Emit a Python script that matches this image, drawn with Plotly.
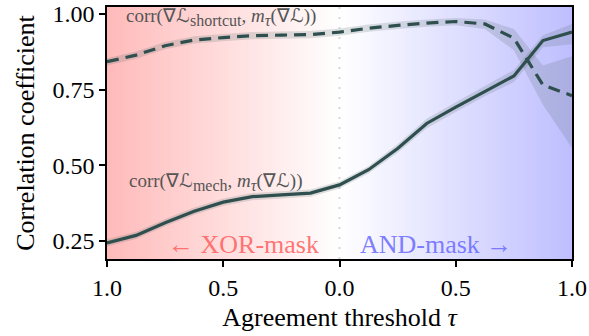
import numpy as np
import plotly.graph_objects as go

# Signed agreement threshold: negative = XOR-mask side, positive = AND-mask side
tau = [-1.0, -0.875, -0.75, -0.625, -0.5, -0.375, -0.25, -0.125, 0.0,
       0.125, 0.25, 0.375, 0.5, 0.625, 0.75, 0.875, 1.0]

shortcut_mean = [0.842, 0.864, 0.895, 0.914, 0.922, 0.928, 0.930, 0.932, 0.940,
                 0.953, 0.962, 0.970, 0.975, 0.967, 0.920, 0.765, 0.730]
shortcut_lo = [0.830, 0.852, 0.883, 0.902, 0.910, 0.916, 0.918, 0.920, 0.928,
               0.941, 0.950, 0.958, 0.963, 0.950, 0.880, 0.700, 0.557]
shortcut_hi = [0.854, 0.876, 0.907, 0.926, 0.934, 0.940, 0.942, 0.944, 0.952,
               0.965, 0.974, 0.982, 0.987, 0.982, 0.950, 0.830, 0.860]

mech_mean = [0.243, 0.268, 0.310, 0.348, 0.378, 0.396, 0.402, 0.408, 0.435,
             0.485, 0.555, 0.638, 0.692, 0.745, 0.795, 0.912, 0.940]
mech_lo = [0.231, 0.256, 0.298, 0.336, 0.366, 0.384, 0.390, 0.396, 0.423,
           0.473, 0.541, 0.622, 0.676, 0.728, 0.775, 0.890, 0.900]
mech_hi = [0.255, 0.280, 0.322, 0.360, 0.390, 0.408, 0.414, 0.420, 0.447,
           0.497, 0.569, 0.654, 0.708, 0.762, 0.815, 0.930, 0.967]

xtick_vals = [-1.0, -0.5, 0.0, 0.5, 1.0]
xtick_text = ["1.0", "0.5", "0.0", "0.5", "1.0"]
ytick_vals = [0.25, 0.50, 0.75, 1.00]
ytick_text = ["0.25", "0.50", "0.75", "1.00"]

YMIN, YMAX = 0.19, 1.023
LINE = "#2f4f4f"
BAND = "rgba(90,110,110,0.2)"
FONT = "Liberation Serif"

fig = go.Figure()

# background gradient (red -> white -> blue)
gx = np.linspace(-1, 1, 241)
fig.add_trace(go.Heatmap(
    x=gx, y=[YMIN - 0.1, YMAX + 0.1], z=[gx, gx],
    colorscale=[[0, "rgb(255,186,186)"], [0.5, "rgb(255,255,255)"], [1, "rgb(190,190,255)"]],
    zmin=-1, zmax=1, showscale=False, hoverinfo="skip", zsmooth="best"))

# dotted zero line
fig.add_trace(go.Scatter(x=[0, 0], y=[YMIN, YMAX], mode="lines",
                         line=dict(color="rgba(205,205,205,0.8)", width=2, dash="2px,8px"),
                         hoverinfo="skip", showlegend=False))

def band(lo, hi):
    fig.add_trace(go.Scatter(x=tau, y=hi, mode="lines", line=dict(width=0),
                             hoverinfo="skip", showlegend=False))
    fig.add_trace(go.Scatter(x=tau, y=lo, mode="lines", line=dict(width=0),
                             fill="tonexty", fillcolor=BAND,
                             hoverinfo="skip", showlegend=False))

band(shortcut_lo, shortcut_hi)
band(mech_lo, mech_hi)

fig.add_trace(go.Scatter(x=tau, y=shortcut_mean, mode="lines",
                         line=dict(color=LINE, width=3.2, dash="12px,7px"),
                         showlegend=False))
fig.add_trace(go.Scatter(x=tau, y=mech_mean, mode="lines",
                         line=dict(color=LINE, width=3.2),
                         showlegend=False))

ann_font = dict(family=FONT, size=19, color="#555555")
SUB = '<sub><span style="font-size:16px">{}</span></sub>'
fig.add_annotation(x=-0.925, y=0.99, xref="x", yref="y", xanchor="left", yanchor="middle",
                   text="corr(∇ℒ" + SUB.format("shortcut") + ", <i>m</i>" + SUB.format("<i>τ</i>") + "(∇ℒ))",
                   showarrow=False, font=ann_font)
fig.add_annotation(x=-0.916, y=0.445, xref="x", yref="y", xanchor="left", yanchor="middle",
                   text="corr(∇ℒ" + SUB.format("mech") + ", <i>m</i>" + SUB.format("<i>τ</i>") + "(∇ℒ))",
                   showarrow=False, font=ann_font)
fig.add_annotation(x=-0.413, y=0.237, xref="x", yref="y", xanchor="center", yanchor="middle",
                   text="← XOR-mask", showarrow=False,
                   font=dict(family=FONT, size=26, color="rgba(255,100,100,0.9)"))
fig.add_annotation(x=0.413, y=0.237, xref="x", yref="y", xanchor="center", yanchor="middle",
                   text="AND-mask →", showarrow=False,
                   font=dict(family=FONT, size=26, color="rgba(110,110,255,0.9)"))

axis_common = dict(showline=True, linecolor="black", linewidth=1.5, mirror=True,
                   ticks="outside", ticklen=6, tickwidth=1.5, tickcolor="black",
                   showgrid=False, zeroline=False, automargin=False,
                   tickfont=dict(family=FONT, size=24, color="black"))

fig.update_xaxes(range=[-1, 1], tickvals=xtick_vals, ticktext=xtick_text,
                 title=dict(text="Agreement threshold <i>τ</i>", standoff=8,
                            font=dict(family=FONT, size=26, color="black")),
                 **axis_common)
fig.update_yaxes(range=[YMIN, YMAX], tickvals=ytick_vals, ticktext=ytick_text,
                 title=dict(text="Correlation coefficient", standoff=10,
                            font=dict(family=FONT, size=26, color="black")),
                 **axis_common)

fig.update_layout(width=589, height=336, margin=dict(l=107, r=17, t=7, b=77),
                  paper_bgcolor="white", plot_bgcolor="white", showlegend=False)

fig.write_html("out.html", config={"displayModeBar": False},
               post_script="document.body.style.margin='0';")
